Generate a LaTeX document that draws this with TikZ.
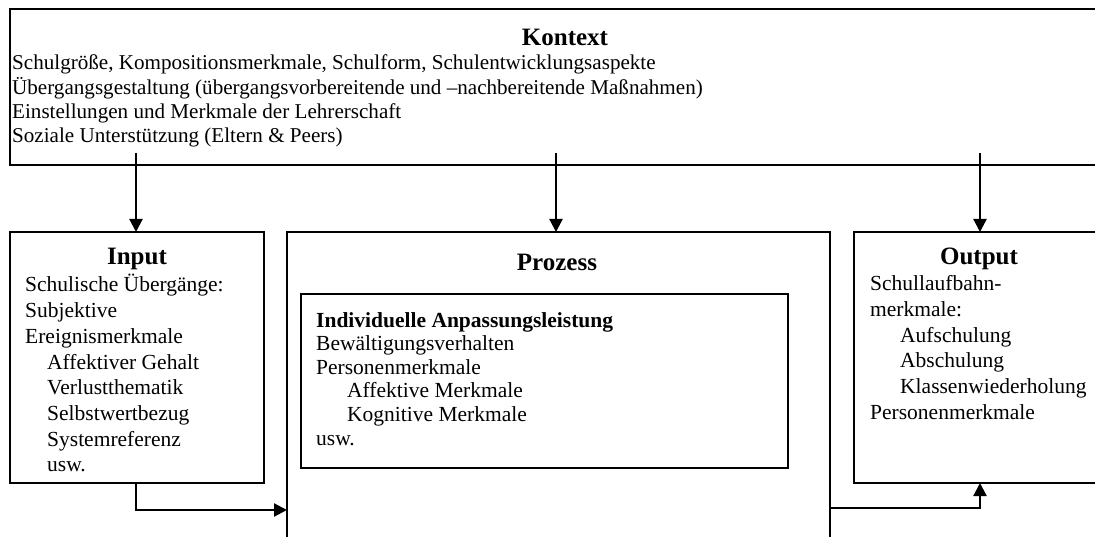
\documentclass[tikz,border=0pt]{standalone}
\usepackage{fontspec}
\setmainfont{Liberation Serif}
\usetikzlibrary{arrows.meta}
\begin{document}
\begin{tikzpicture}[x=1pt,y=-1pt,
  box/.style={draw, line width=2.4pt, inner sep=0pt, outer sep=0pt, anchor=north west},
  arr/.style={line width=2.2pt, -{Triangle[length=13pt,width=13pt]}},
  txt/.style={inner sep=0pt, anchor=base west, font=\fontsize{21.5}{25.7}\selectfont},
  ttl/.style={inner sep=0pt, anchor=base, font=\fontsize{25}{28}\selectfont\bfseries}]
\useasboundingbox (0,0) rectangle (1095,537);
\clip (0,0) rectangle (1095,537);
% boxes
\node[box, minimum width=1090pt, minimum height=156pt] (kontext) at (10,9) {};
\node[box, minimum width=254pt, minimum height=251pt] (input) at (10,232) {};
\node[box, minimum width=543pt, minimum height=320pt] (prozess) at (287,232) {};
\node[box, minimum width=487pt, minimum height=174pt] (inner) at (301,294) {};
\node[box, minimum width=250pt, minimum height=251pt] (output) at (854,232) {};
% titles
\node[ttl] (tk) at (565,46) {Kontext};
\node[ttl] (ti) at (137,265) {Input};
\node[ttl] (tp) at (557,271) {Prozess};
\node[ttl] (to) at (979,265) {Output};
% texts
\node[txt, font=\fontsize{21.1}{24}\selectfont] (kt) at (12,70) {\begin{tabular}[t]{@{}l@{}}
Schulgröße, Kompositionsmerkmale, Schulform, Schulentwicklungsaspekte\\
Übergangsgestaltung (übergangsvorbereitende und –nachbereitende Maßnahmen)\\
Einstellungen und Merkmale der Lehrerschaft\\
Soziale Unterstützung (Eltern \& Peers)
\end{tabular}};
\node[txt] (it) at (25,292) {\begin{tabular}[t]{@{}l@{}}
Schulische Übergänge:\\
Subjektive\\
Ereignismerkmale\\
\hspace*{22pt}Affektiver Gehalt\\
\hspace*{22pt}Verlustthematik\\
\hspace*{22pt}Selbstwertbezug\\
\hspace*{22pt}Systemreferenz\\
\hspace*{22pt}usw.
\end{tabular}};
\node[txt, font=\fontsize{21.5}{23.6}\selectfont] (pt) at (316,327) {\begin{tabular}[t]{@{}l@{}}
\textbf{Individuelle Anpassungsleistung}\\
Bewältigungsverhalten\\
Personenmerkmale\\
\hspace*{31pt}Affektive Merkmale\\
\hspace*{31pt}Kognitive Merkmale\\
usw.
\end{tabular}};
\node[txt, font=\fontsize{21.5}{25.6}\selectfont] (ot) at (870,291) {\begin{tabular}[t]{@{}l@{}}
Schullaufbahn-\\
merkmale:\\
\hspace*{30pt}Aufschulung\\
\hspace*{30pt}Abschulung\\
\hspace*{30pt}Klassenwiederholung\\
Personenmerkmale
\end{tabular}};
% connectors
\coordinate (a1) at (136,153);
\coordinate (a2) at (556,153);
\coordinate (a3) at (980,153);
\draw[arr] (a1) -- (a1 |- input.north);
\draw[arr] (a2) -- (a2 |- prozess.north);
\draw[arr] (a3) -- (a3 |- output.north);
\coordinate (b1) at (136,510);
\draw[arr] (b1 |- input.south) -- (b1) -- (b1 -| prozess.west);
\coordinate (c1) at (980,508);
\draw[arr] (c1 -| prozess.east) -- (c1) -- (c1 |- output.south);
\end{tikzpicture}
\end{document}
